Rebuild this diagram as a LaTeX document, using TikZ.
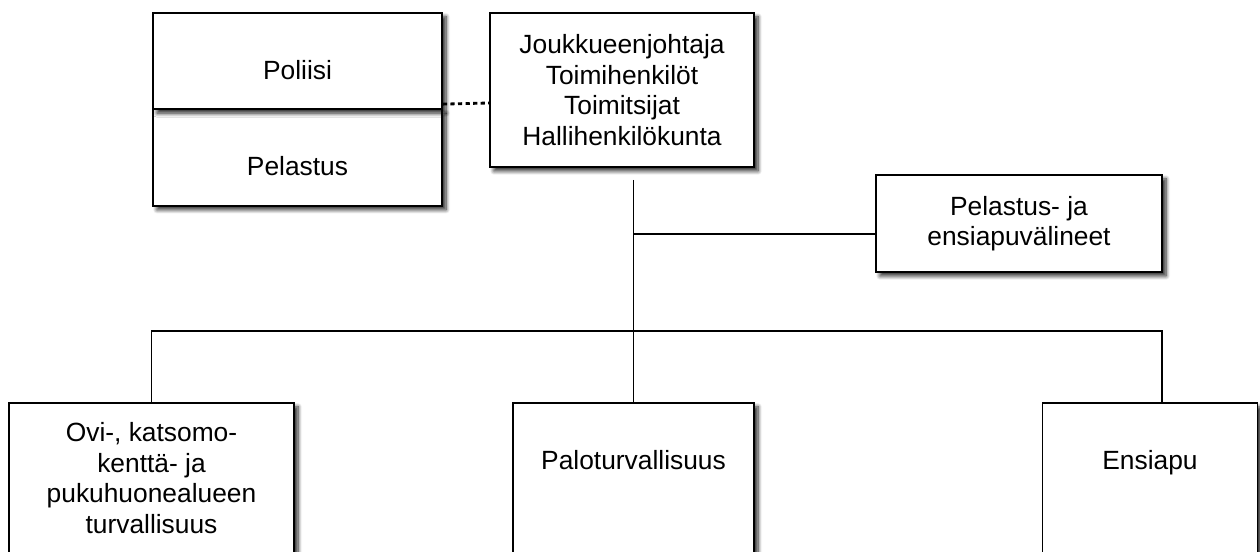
\documentclass[tikz,border=0pt]{standalone}
\usepackage{fontspec}
\setmainfont{Liberation Sans}
\usetikzlibrary{positioning,shadows.blur}

\begin{document}
\begin{tikzpicture}[
		font=\fontsize{15pt}{17.4pt}\selectfont,
		laatikko/.style={draw, line width=1pt, fill=white, align=center, inner sep=0pt,
			blur shadow={shadow xshift=0.08cm, shadow yshift=-0.08cm, shadow blur radius=0.08cm, shadow blur steps=8, shadow opacity=85}},
		alas/.style={text height=0.74cm, text depth=0pt},
		teksti/.style={inner sep=0pt, align=center},
		viiva/.style={line width=1pt},
		pisteet/.style={line width=1.6pt, dash pattern=on 2.4pt off 1.9pt}
	]
			\useasboundingbox (0,0) rectangle (25.2,11.04);
			% poliisi ja pelastus
			\node[laatikko, alas, minimum width=5.78cm, minimum height=1.93cm] (pelastus) at (5.95,7.89) {Pelastus};
			\node[laatikko, alas, minimum width=5.78cm, minimum height=1.93cm] (poliisi) at (5.95,9.82) {Poliisi};
			% johto
			\node[laatikko, minimum width=5.28cm, minimum height=3.08cm] (johto) at (12.44,9.24) {Joukkueenjohtaja\\Toimihenkilöt\\Toimitsijat\\Hallihenkilökunta};
			% valineet
			\node[laatikko, minimum width=5.72cm, minimum height=1.94cm] (varusteet) at (20.38,6.57) {Pelastus- ja\\ensiapuvälineet};
			% alarivi
			\node[laatikko, anchor=north, minimum width=5.7cm, minimum height=4cm] (ovi) at (3.03,3.0) {};
			\node[laatikko, anchor=north, minimum width=4.82cm, minimum height=4cm] (palo) at (12.67,3.0) {};
			\node[laatikko, anchor=north, minimum width=4.3cm, minimum height=4cm] (ensiapu) at (23.0,3.0) {};
			\node[teksti, below=0.4cm of ovi.north] (ovi-teksti) {Ovi-, katsomo-\\kenttä- ja\\pukuhuonealueen\\turvallisuus};
			\node[teksti, below=0.96cm of palo.north] (palo-teksti) {Paloturvallisuus};
			\node[teksti, below=0.96cm of ensiapu.north] (ensiapu-teksti) {Ensiapu};
			% viivat
			\coordinate (runko) at (12.67,7.44);
			\coordinate (haara) at (12.67,6.36);
			\coordinate (oikea) at (23.24,4.42);
			\draw[pisteet] ([yshift=0.12cm]poliisi.south east) -- ([yshift=-0.26cm]johto.west);
			\draw[viiva] (runko) -- (palo.north);
			\draw[viiva] (haara) -- (haara -| varusteet.west);
			\draw[viiva] (ovi.north) |- (oikea) -- (oikea |- ensiapu.north);
\end{tikzpicture}
\end{document}
